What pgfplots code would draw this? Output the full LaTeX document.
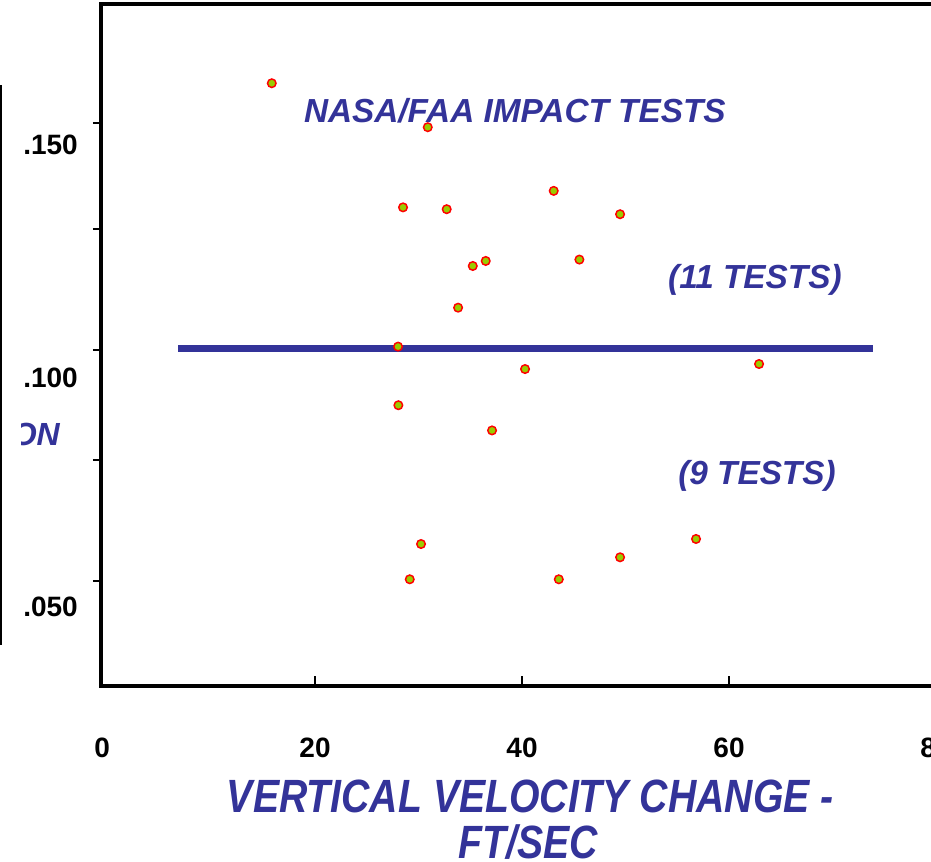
\documentclass[border=0pt]{standalone}
\usepackage{pgfplots}
\pgfplotsset{compat=1.18}
\usepackage{fontspec}
\setmainfont{Liberation Sans}
\newfontfamily\narrowfont[FakeStretch=0.84]{Liberation Sans}
\definecolor{navy}{RGB}{51,51,153}
\definecolor{ygreen}{RGB}{153,204,0}
\begin{document}
\begin{tikzpicture}
\path[use as bounding box, clip] (0,0) rectangle (698.25pt,645.75pt);
\begin{axis}[
  at={(75.6pt,131.25pt)}, anchor=south west,
  scale only axis, width=665.25pt, height=511.5pt,
  xmin=-0.7, xmax=85, ymin=0.0271, ymax=0.176,
  clip=false,
  axis line style={line width=3pt},
  xtick={20,40,60}, xticklabels={},
  ytick={0.05,0.0764,0.1004,0.1269,0.15}, yticklabels={},
  xtick pos=bottom, ytick pos=left,
  tick align=outside, major tick length=6pt,
  tick style={black, line width=1.2pt},
  xtick style={yshift=7.5pt},
]
% separating line
\addplot[navy, line width=5.25pt] coordinates {(6.76,0.1007) (73.9,0.1007)};
% tests
\addplot[only marks, mark=*, mark size=3.2pt,
  mark options={draw=red, fill=ygreen, line width=1.1pt}] coordinates {
(15.82,0.1587) (30.89,0.1491) (28.50,0.1316) (32.72,0.1312) (43.06,0.1352)
(49.47,0.1301) (35.24,0.1188) (36.49,0.1199) (45.54,0.1202) (33.82,0.1097)
(28.02,0.1012) (40.29,0.0963) (62.90,0.0974) (28.05,0.0884) (37.10,0.0829)
(30.24,0.0581) (29.15,0.0504) (43.55,0.0504) (49.47,0.0552) (56.81,0.0592)
};
% texts
\begin{scope}[every node/.style={text=navy, font=\fontsize{25pt}{30pt}\selectfont\bfseries\itshape, inner sep=0pt}]
\node at (axis cs:39.3,0.1526) {NASA/FAA IMPACT TESTS};
\node at (axis cs:62.5,0.1157) {(11 TESTS)};
\node at (axis cs:62.7,0.0729) {(9 TESTS)};
\end{scope}
% tick labels
\begin{scope}[every node/.style={font=\fontsize{21pt}{25pt}\selectfont\bfseries, inner sep=0pt}]
\node[anchor=east] at (axis cs:-2.9,0.1452) {.150};
\node[anchor=east] at (axis cs:-2.9,0.0943) {.100};
\node[anchor=east] at (axis cs:-2.9,0.0443) {.050};
\node at (axis cs:-0.58,0.01354) {0};
\node at (axis cs:20,0.01354) {20};
\node at (axis cs:40,0.01354) {40};
\node at (axis cs:60,0.01354) {60};
\node at (axis cs:80,0.01354) {80};
\end{scope}
% x axis title
\node[anchor=base, text=navy, inner sep=0pt, font=\narrowfont\fontsize{35pt}{42pt}\selectfont\bfseries\itshape]
  at (axis cs:40.8,-0.00044) {VERTICAL VELOCITY CHANGE -};
\node[anchor=base, text=navy, inner sep=0pt, font=\narrowfont\fontsize{35pt}{42pt}\selectfont\bfseries\itshape]
  at (axis cs:40.6,-0.0105) {FT/SEC};
% clipped y axis title fragment
\begin{scope}
\clip (axis cs:-8.4,0.07) rectangle (axis cs:-4,0.095);
\node[anchor=east, text=navy, inner sep=0pt, font=\fontsize{24pt}{29pt}\selectfont\bfseries\itshape]
  at (axis cs:-4.64,0.0821) {ION};
\end{scope}
% neighbouring axis line at the left edge
\draw[line width=1.5pt] (axis cs:-10.34,0.1583) -- (axis cs:-10.34,0.036);
\end{axis}
\end{tikzpicture}
\end{document}
